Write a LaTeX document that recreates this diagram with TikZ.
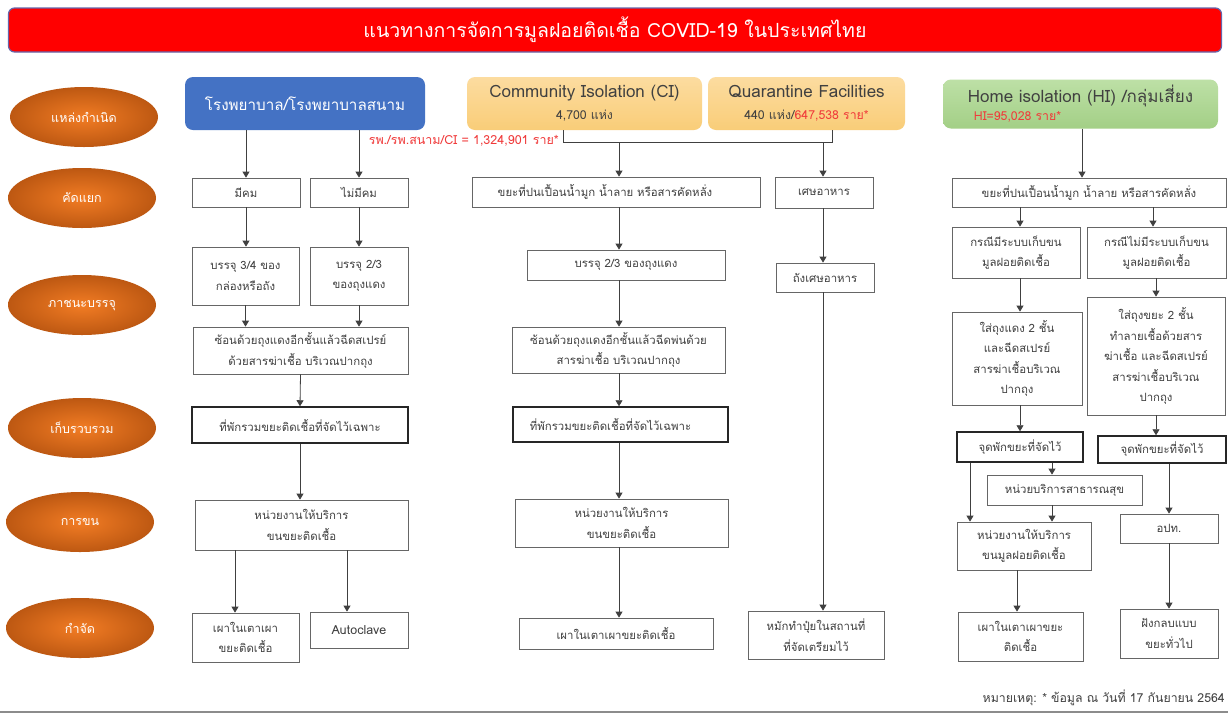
\documentclass[tikz,border=0pt]{standalone}
\usepackage{fontspec}
\setmainfont[Script=Thai]{Loma}
\usetikzlibrary{arrows.meta,shapes.geometric}
\definecolor{titlered}{HTML}{FF0000}
\definecolor{orngin}{HTML}{F27C24}
\definecolor{orngout}{HTML}{BD5812}
\definecolor{blueb}{HTML}{4472C4}
\definecolor{cifill}{HTML}{F9CD78}
\definecolor{cilight}{HTML}{FCDCA0}
\definecolor{hifill}{HTML}{A3CF86}
\definecolor{hilight}{HTML}{BDE0A6}
\definecolor{txt}{HTML}{404040}
\definecolor{redt}{HTML}{F03A3A}
\newcommand{\subsz}{\fontsize{12.3}{14}\selectfont}
\tikzset{
  box/.style={draw=black!60, line width=0.8pt, fill=white, text=txt, align=center, inner sep=2pt,
              font=\fontsize{11.4}{20.5}\selectfont},
  tbox/.style={box, draw=black!85, line width=1.5pt},
  conn/.style={draw=black!75, line width=0.8pt},
  arr/.style={conn, -{Triangle[width=7pt,length=6pt]}},
  stage/.style={ellipse, minimum width=148, minimum height=60, inner color=orngin, outer color=orngout,
                text=white, font=\fontsize{12.5}{15}\selectfont},
  header/.style={rounded corners=8, text=txt, align=center, font=\fontsize{17}{20}\selectfont},
  redsmall/.style={text=redt, font=\fontsize{12.5}{14}\selectfont, inner sep=0pt}
}
\begin{document}
\begin{tikzpicture}[x=1pt,y=-1pt]
\useasboundingbox (0,0) rectangle (1228,713);
\fill[white] (0,0) rectangle (1228,713);
% title
\node[draw=black!55!blue!60, line width=1.2pt, fill=titlered, rounded corners=6, minimum width=1213, minimum height=44,
      text=white, font=\fontsize{19.5}{22}\selectfont] (title) at (615,30) {แนวทางการจัดการมูลฝอยติดเชื้อ COVID-19 ในประเทศไทย};
% stages
\node[stage] (s1) at (84,117) {แหล่งกำเนิด};
\node[stage] (s2) at (82,198) {คัดแยก};
\node[stage] (s3) at (82,305) {ภาชนะบรรจุ};
\node[stage] (s4) at (82,428) {เก็บรวบรวม};
\node[stage] (s5) at (80,522) {การขน};
\node[stage] (s6) at (80,628) {กำจัด};
% ---------- left column
\node[header, fill=blueb, text=white, minimum width=240, minimum height=53, font=\fontsize{15.2}{18}\selectfont] (hosp) at (305,103.5) {โรงพยาบาล/โรงพยาบาลสนาม};
\node[redsmall, anchor=east] (rtot) at (559,141) {รพ./รพ.สนาม/CI = 1,324,901 ราย*};
\node[box, minimum width=108, minimum height=29] (mk) at (246,192.5) {มีคม};
\node[box, minimum width=98, minimum height=29] (nmk) at (359,192.5) {ไม่มีคม};
\node[box, minimum width=107, minimum height=58] (b34) at (245.5,276) {บรรจุ 3/4 ของ\\กล่องหรือถัง};
\node[box, minimum width=98, minimum height=58] (b23) at (359,276) {บรรจุ 2/3\\ของถุงแดง};
\node[box, minimum width=215, minimum height=47] (son1) at (300.5,350.5) {ซ้อนด้วยถุงแดงอีกชั้นแล้วฉีดสเปรย์\\ด้วยสารฆ่าเชื้อ บริเวณปากถุง};
\node[tbox, minimum width=216, minimum height=36] (tp1) at (300,425) {ที่พักรวมขยะติดเชื้อที่จัดไว้เฉพาะ};
\node[box, minimum width=213, minimum height=50] (nw1) at (301.5,525) {หน่วยงานให้บริการ\\ขนขยะติดเชื้อ};
\node[box, minimum width=107, minimum height=49] (pao1) at (245.5,637.5) {เผาในเตาเผา\\ขยะติดเชื้อ};
\node[box, minimum width=98, minimum height=36, font=\fontsize{12.5}{15}\selectfont] (auto) at (359,630) {Autoclave};
\coordinate (la) at (235,0);
\coordinate (lb) at (347,0);
\draw[arr] (hosp.south -| mk.north) -- (mk.north);
\draw[arr] (hosp.south -| nmk.north) -- (nmk.north);
\draw[arr] (mk.south) -- (mk.south |- b34.north);
\draw[arr] (nmk.south) -- (nmk.south |- b23.north);
\draw[arr] (b34.south) -- (b34.south |- son1.north);
\draw[arr] (b23.south) -- (b23.south |- son1.north);
\draw[arr] (son1.south) -- (tp1.north);
\draw[arr] (tp1.south) -- (tp1.south |- nw1.north);
\draw[arr] (nw1.south -| la) -- (pao1.north -| la);
\draw[arr] (nw1.south -| lb) -- (auto.north -| lb);
% ---------- middle column
\node[header, top color=cilight, bottom color=cifill, minimum width=235, minimum height=53] (ci) at (584.5,103.5)
  {Community Isolation (CI)\\[2pt]{\subsz 4,700 แห่ง}};
\node[header, top color=cilight, bottom color=cifill, minimum width=197, minimum height=53] (qf) at (806.5,103.5)
  {Quarantine Facilities\\[2pt]{\subsz 440 แห่ง/\textcolor{redt}{647,538 ราย*}}};
\node[box, minimum width=288, minimum height=30] (kp2) at (616,192) {\hspace*{-22pt}ขยะที่ปนเปื้อนน้ำมูก น้ำลาย หรือสารคัดหลั่ง};
\node[box, minimum width=98, minimum height=31] (sesh) at (824,192.5) {เศษอาหาร};
\node[box, minimum width=198, minimum height=30] (b23m) at (626,265) {บรรจุ 2/3 ของถุงแดง};
\node[box, minimum width=98, minimum height=29] (tang) at (825,277.5) {ถังเศษอาหาร};
\node[box, minimum width=213, minimum height=46] (son2) at (618.5,350) {ซ้อนด้วยถุงแดงอีกชั้นแล้วฉีดพ่นด้วย\\สารฆ่าเชื้อ บริเวณปากถุง};
\node[tbox, minimum width=215, minimum height=35] (tp2) at (620.5,424.5) {\hspace*{-20pt}ที่พักรวมขยะติดเชื้อที่จัดไว้เฉพาะ};
\node[box, minimum width=213, minimum height=48] (nw2) at (621.5,523) {หน่วยงานให้บริการ\\ขนขยะติดเชื้อ};
\node[box, minimum width=194, minimum height=31] (pao2) at (616,633.5) {เผาในเตาเผาขยะติดเชื้อ};
\node[box, minimum width=136, minimum height=48] (mak) at (816,635) {หมักทำปุ๋ยในสถานที่\\ที่จัดเตรียมไว้};
\coordinate (bl) at (563,142);
\coordinate (br) at (832,142);
\coordinate (mc) at (619,0);
\coordinate (rc) at (823,0);
\draw[conn] (ci.south -| bl) -- (bl) -- (br) -- (qf.south -| br);
\draw[arr] (bl -| mc) -- (kp2.north -| mc);
\draw[arr] (br -| rc) -- (sesh.north -| rc);
\draw[arr] (kp2.south -| mc) -- (b23m.north -| mc);
\draw[arr] (b23m.south -| mc) -- (son2.north -| mc);
\draw[arr] (son2.south -| mc) -- (tp2.north -| mc);
\draw[arr] (tp2.south -| mc) -- (nw2.north -| mc);
\draw[arr] (nw2.south -| mc) -- (pao2.north -| mc);
\draw[arr] (sesh.south -| rc) -- (tang.north -| rc);
\draw[arr] (tang.south -| rc) -- (mak.north -| rc);
% ---------- right column
\node[header, top color=hilight, bottom color=hifill, minimum width=275, minimum height=49, align=left,
      font=\fontsize{17}{18}\selectfont] (hi) at (1080.5,104)
  {Home isolation (HI) /กลุ่มเสี่ยง\\\hspace*{6pt}{\color{redt}\subsz HI=95,028 ราย*}};
\node[box, minimum width=274, minimum height=29] (kp3) at (1089,192.5) {ขยะที่ปนเปื้อนน้ำมูก น้ำลาย หรือสารคัดหลั่ง};
\node[box, minimum width=128, minimum height=51] (c1) at (1016,252.5) {กรณีมีระบบเก็บขน\\มูลฝอยติดเชื้อ};
\node[box, minimum width=139, minimum height=51] (c2) at (1156.5,252.5) {กรณีไม่มีระบบเก็บขน\\มูลฝอยติดเชื้อ};
\node[box, minimum width=130, minimum height=93] (r1) at (1017,358.5) {ใส่ถุงแดง 2 ชั้น\\และฉีดสเปรย์\\สารฆ่าเชื้อบริเวณ\\ปากถุง};
\node[box, minimum width=138, minimum height=118] (r2) at (1156,356) {ใส่ถุงขยะ 2 ชั้น\\ทำลายเชื้อด้วยสาร\\ฆ่าเชื้อ และฉีดสเปรย์\\สารฆ่าเชื้อบริเวณ\\ปากถุง};
\node[tbox, minimum width=126, minimum height=30] (j1) at (1020,447) {จุดพักขยะที่จัดไว้};
\node[tbox, minimum width=128, minimum height=27] (j2) at (1162,449.5) {จุดพักขยะที่จัดไว้};
\node[box, minimum width=155, minimum height=30] (hp) at (1064.5,490) {หน่วยบริการสาธารณสุข};
\node[box, minimum width=134, minimum height=48] (nw3) at (1024,546) {หน่วยงานให้บริการ\\ขนมูลฝอยติดเชื้อ};
\node[box, minimum width=125, minimum height=49] (pao3) at (1020.5,636.5) {เผาในเตาเผาขยะ\\ติดเชื้อ};
\node[box, minimum width=98, minimum height=29] (opt) at (1169,528.5) {อปท.};
\node[box, minimum width=98, minimum height=49] (fang) at (1169,633.5) {ฝังกลบแบบ\\ขยะทั่วไป};
\coordinate (ra) at (970,0);
\coordinate (rb) at (1052,0);
\coordinate (rk1) at (1020,0);
\coordinate (rk2) at (1153,0);
\coordinate (rh) at (1082,0);
\coordinate (rp) at (1017,0);
\draw[arr] (hi.south -| rh) -- (kp3.north -| rh);
\draw[arr] (kp3.south -| rk1) -- (c1.north -| rk1);
\draw[arr] (kp3.south -| rk2) -- (c2.north -| rk2);
\draw[arr] (c1.south -| rk1) -- (r1.north -| rk1);
\draw[arr] (c2.south -| r2.north) -- (r2.north);
\draw[arr] (r1.south -| rk1) -- (j1.north -| rk1);
\draw[arr] (r2.south) -- (r2.south |- j2.north);
\draw[arr] (j1.south -| ra) -- (nw3.north -| ra);
\draw[arr] (j1.south -| rb) -- (hp.north -| rb);
\draw[arr] (hp.south -| rb) -- (nw3.north -| rb);
\draw[arr] (nw3.south -| rp) -- (pao3.north -| rp);
\draw[arr] (j2.south -| opt.north) -- (opt.north);
\draw[arr] (opt.south) -- (fang.north);
% note and bottom rule
\node[anchor=east, text=txt, font=\fontsize{12.3}{14}\selectfont, inner sep=0pt] (note) at (1225,698) {หมายเหตุ: * ข้อมูล ณ วันที่ 17 กันยายน 2564};
\draw[black!45, line width=1.5pt] (0,712) -- (1228,712);
\end{tikzpicture}
\end{document}
